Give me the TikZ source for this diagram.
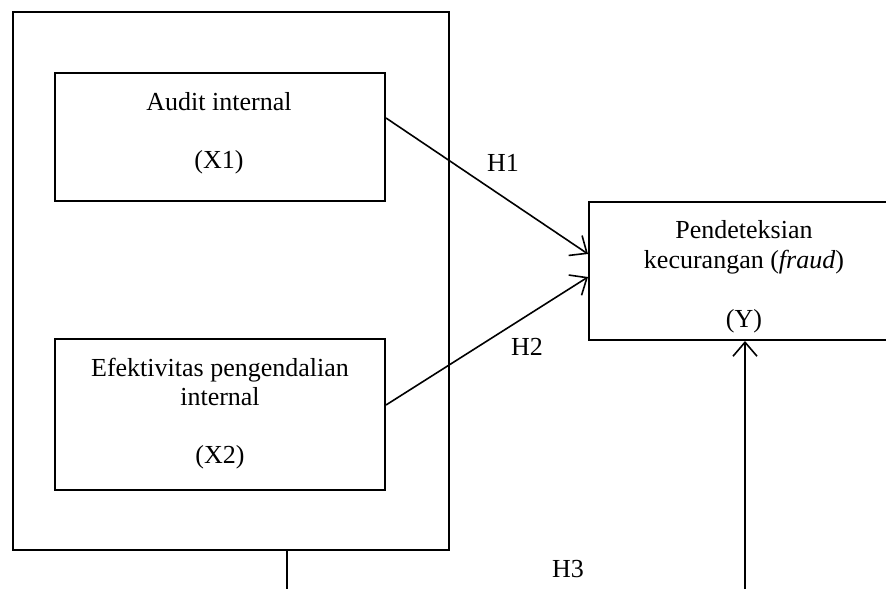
\documentclass[tikz,border=0pt]{standalone}
\usepackage{fontspec}
\setmainfont{Liberation Serif}
\usetikzlibrary{arrows.meta}
\begin{document}
\begin{tikzpicture}[x=1pt,y=-1pt,
  box/.style={draw,line width=2pt,inner sep=0pt},
  lbl/.style={font=\fontsize{26}{31}\selectfont,anchor=base,inner sep=0pt},
  conn/.style={line width=1.6pt,-{Straight Barb[length=14pt,width=24pt,line width=1.6pt]}},
  plain/.style={line width=1.6pt}]
\useasboundingbox (0,0) rectangle (886,589);
\clip (0,0) rectangle (886,589);
% boxes
\node[box,minimum width=436pt,minimum height=537.5pt] (outer) at (230.5,280.75) {};
\node[box,minimum width=330.5pt,minimum height=128pt] (x1) at (219.75,137) {};
\node[box,minimum width=330pt,minimum height=151pt] (x2) at (220,414.5) {};
\node[box,minimum width=310pt,minimum height=138pt] (y) at (744,271) {};
% texts
\node[lbl] (t1a) at (219,110) {Audit internal};
\node[lbl] (t1b) at (219,168) {(X1)};
\node[lbl] (t2a) at (220,376) {Efektivitas pengendalian};
\node[lbl] (t2b) at (220,405) {internal};
\node[lbl] (t2c) at (220,463) {(X2)};
\node[lbl] (tya) at (744,238) {Pendeteksian};
\node[lbl] (tyb) at (744,268) {kecurangan (\textit{fraud})};
\node[lbl] (tyc) at (744,327) {(Y)};
\node[lbl] (h1) at (503,171) {H1};
\node[lbl] (h2) at (527,355) {H2};
\node[lbl] (h3) at (568,577) {H3};
% connector coordinates
\coordinate (a1s) at ([yshift=19pt]x1.east);
\coordinate (a1e) at ([yshift=17pt]y.west);
\coordinate (a2s) at ([yshift=9.5pt]x2.east);
\coordinate (a2e) at ([yshift=-6pt]y.west);
\coordinate (ybot) at (745,589);
\coordinate (otop) at ([xshift=56.5pt]outer.south);
\coordinate (obot) at (287,589);
% connectors
\draw[conn] (a1s) -- (a1e);
\draw[conn] (a2s) -- (a2e);
\draw[conn] (ybot) -- (ybot |- y.south);
\draw[plain] (otop) -- (obot);
\end{tikzpicture}
\end{document}
